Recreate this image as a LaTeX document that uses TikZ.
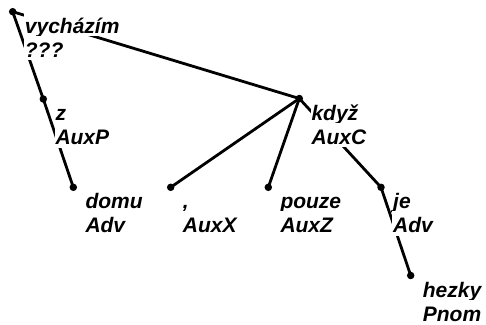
\documentclass[tikz,border=0pt]{standalone}
\usepackage{fontspec}
\setmainfont{Liberation Sans}
\usetikzlibrary{calc}
\tikzset{
  dot/.style={circle, fill=black, inner sep=0pt, minimum size=7.5pt},
  edge/.style={line width=2.8pt, line cap=round},
  lbl/.style={fill=white, inner sep=1pt, text height=20.5pt, text depth=2pt, anchor=base west,
    font=\bfseries\itshape\fontsize{21}{24}\selectfont},
}
\begin{document}
\begin{tikzpicture}[x=1pt,y=-1pt]
\useasboundingbox (0,0) rectangle (486,324);
% dots (positions)
\coordinate (v) at (12.7,11.7);
\coordinate (z) at (43.3,99);
\coordinate (d) at (73.3,187.3);
\coordinate (c) at (170.7,187.3);
\coordinate (k) at (299.3,98.5);
\coordinate (p) at (268.3,187.3);
\coordinate (j) at (381,187.3);
\coordinate (h) at (410.7,275.5);
% edges
\draw[edge] (v) -- (z);
\draw[edge] (v) -- (k);
\draw[edge] (z) -- (d);
\draw[edge] (k) -- (c);
\draw[edge] (k) -- (p);
\draw[edge] (k) -- (j);
\draw[edge] (j) -- (h);
% labels
\node[lbl] (vw) at ($(v)+(11,21.5)$) {vycházím};
\node[lbl] (vt) at ($(v)+(11,45.5)$) {???};
\node[lbl] (zw) at ($(z)+(11,21.5)$) {z};
\node[lbl] (zt) at ($(z)+(11,45.5)$) {AuxP};
\node[lbl] (dw) at ($(d)+(11,21.5)$) {domu};
\node[lbl] (dt) at ($(d)+(11,45.5)$) {Adv};
\node[lbl] (cw) at ($(c)+(11,21.5)$) {,};
\node[lbl] (ct) at ($(c)+(11,45.5)$) {AuxX};
\node[lbl] (pw) at ($(p)+(11,21.5)$) {pouze};
\node[lbl] (pt) at ($(p)+(11,45.5)$) {AuxZ};
\node[lbl] (kw) at ($(k)+(11,21.5)$) {když};
\node[lbl] (kt) at ($(k)+(11,45.5)$) {AuxC};
\node[lbl] (jw) at ($(j)+(11,21.5)$) {je};
\node[lbl] (jt) at ($(j)+(11,45.5)$) {Adv};
\node[lbl] (hw) at ($(h)+(11,21.5)$) {hezky};
\node[lbl] (ht) at ($(h)+(11,45.5)$) {Pnom};
% dot nodes
\foreach \n in {v,z,d,c,k,p,j,h} \node[dot] (\n dot) at (\n) {};
\end{tikzpicture}
\end{document}
